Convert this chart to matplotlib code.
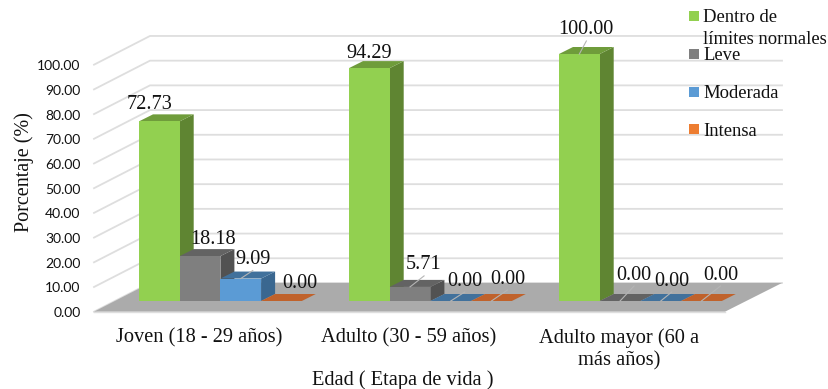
import matplotlib
matplotlib.use("Agg")
import matplotlib.pyplot as plt
from matplotlib.patches import Polygon, Rectangle

categories = ["Joven (18 - 29 años)", "Adulto (30 - 59 años)", "Adulto mayor (60 a\nmás años)"]
series_names = ["Dentro de\nlímites normales", "Leve", "Moderada", "Intensa"]
normales = [72.73, 94.29, 100.00]
leve = [18.18, 5.71, 0.00]
moderada = [9.09, 0.00, 0.00]
intensa = [0.00, 0.00, 0.00]
y_ticks = [0, 10, 20, 30, 40, 50, 60, 70, 80, 90, 100]

# label offsets from the centre of each bar top, in pixels (rows follow the series)
label_offsets = [
    [(-10, 19), (0, 17), (7, 26)],
    [(13, 19), (14, 24), (14, 28)],
    [(12, 21), (14, 22), (11, 22)],
    [(18, 20), (16, 24), (19, 28)],
]
# which labels get a small leader line
leaders = [
    [False, False, True],
    [False, True, True],
    [True, True, True],
    [False, True, True],
]

front_colors = ["#92d050", "#7f7f7f", "#5b9bd5", "#ed7d31"]
side_colors = ["#5f8532", "#525252", "#3a6790", "#a85a24"]
top_colors = ["#6f9c3b", "#636363", "#41719c", "#c0622b"]

PX_X = 210.0   # pixels per category
PX_V = 2.47    # pixels per percentage point
BAR_W = 40.7 / PX_X
DEPTH_X = 14 / PX_X
DEPTH_V = 7 / PX_V
FLOOR_FRONT = -4.33
FLOOR_BACK = 7.3
WALL_LEFT = -45 / PX_X
WALL_BACK = 11 / PX_X
FLOOR_RIGHT = 643 / PX_X
FRONT_RIGHT = 586 / PX_X
TEXT_DROP = 2  # serif text sits a little low of its centre

serif = "Liberation Serif"
ink = "#111111"

fig = plt.figure(figsize=(8.29, 3.89), dpi=100)
ax = fig.add_axes([0, 0, 1, 1])
ax.set_xlim(-139 / PX_X, 690 / PX_X)
ax.set_ylim(-88 / PX_V, 301 / PX_V)
ax.axis("off")

# side wall and back wall gridlines
for v in y_ticks:
    ax.plot([WALL_LEFT, WALL_BACK, FLOOR_RIGHT],
            [v + FLOOR_FRONT, v + FLOOR_BACK, v + FLOOR_BACK],
            color="#dedede", lw=1.3, zorder=1, solid_joinstyle="miter")
    ax.text(-58.5 / PX_X, v + FLOOR_FRONT - 0.6, f"{v:.2f}", ha="right", va="center",
            family="Lato", fontsize=10, color=ink)

# floor
ax.add_patch(Polygon([(WALL_LEFT, FLOOR_FRONT), (FRONT_RIGHT, FLOOR_FRONT),
                      (FLOOR_RIGHT, FLOOR_BACK), (WALL_BACK, FLOOR_BACK)],
                     closed=True, fc="#ababab", ec="none", zorder=2))
ax.plot([WALL_LEFT, FRONT_RIGHT], [FLOOR_FRONT, FLOOR_FRONT], color="#dedede", lw=1.0, zorder=2)

# bars, left to right so the next bar hides the side of the previous one
z = 3
all_series = [normales, leve, moderada, intensa]
for g in range(len(categories)):
    for s, values in enumerate(all_series):
        v = values[g]
        x0 = g + s * BAR_W
        x1 = x0 + BAR_W
        ax.add_patch(Polygon([(x1, 0), (x1 + DEPTH_X, DEPTH_V), (x1 + DEPTH_X, v + DEPTH_V), (x1, v)],
                             closed=True, fc=side_colors[s], ec="none", zorder=z))
        ax.add_patch(Polygon([(x0, v), (x1, v), (x1 + DEPTH_X, v + DEPTH_V), (x0 + DEPTH_X, v + DEPTH_V)],
                             closed=True, fc=top_colors[s], ec="none", zorder=z))
        if v > 0:
            ax.add_patch(Rectangle((x0, 0), BAR_W, v, fc=front_colors[s], ec="none", zorder=z))
        z += 1

# data labels and leaders on top of the bars
for g in range(len(categories)):
    for s, values in enumerate(all_series):
        v = values[g]
        cx = g + s * BAR_W + BAR_W / 2
        dx, dy = label_offsets[s][g]
        ax.annotate(f"{v:.2f}", (cx, v), xytext=(dx, dy - TEXT_DROP), textcoords="offset pixels",
                    ha="center", va="center", family=serif, fontsize=14.6,
                    color=ink, zorder=50)
        if leaders[s][g]:
            ax.plot([cx, cx + dx / PX_X], [v, v + (dy - 13) / PX_V],
                    color="#b5b5b5", lw=0.8, zorder=40)

# category labels and axis titles
for g, name in enumerate(categories):
    lines = name.split("\n")
    cx = [60 / PX_X, 270 / PX_X, 480 / PX_X][g]
    for i, line in enumerate(lines):
        ax.text(cx, (301 - 336 - TEXT_DROP - 23 * i) / PX_V, line, ha="center", va="center",
                family=serif, fontsize=14.7, color=ink)

ax.text(264 / PX_X, (301 - 378 - TEXT_DROP) / PX_V, "Edad ( Etapa de vida )", ha="center", va="center",
        family=serif, fontsize=14.7, color=ink)
ax.text(-115 / PX_X, (301 - 172) / PX_V, "Porcentaje (%)", rotation=90, ha="center", va="center",
        family=serif, fontsize=14.5, color=ink)

# hand placed legend
legend_px = [16, 54, 92, 129]
for name, color, py in zip(series_names, front_colors, legend_px):
    ax.add_patch(Rectangle((550 / PX_X, (301 - py - 5) / PX_V), 10 / PX_X, 10 / PX_V,
                           fc=color, ec="none", zorder=60))
    for i, line in enumerate(name.split("\n")):
        ax.text(564 / PX_X, (301 - py - TEXT_DROP - 22 * i) / PX_V, line, ha="left", va="center",
                family=serif, fontsize=13.4, color=ink, zorder=60)

fig.savefig("out.png", dpi=100)
